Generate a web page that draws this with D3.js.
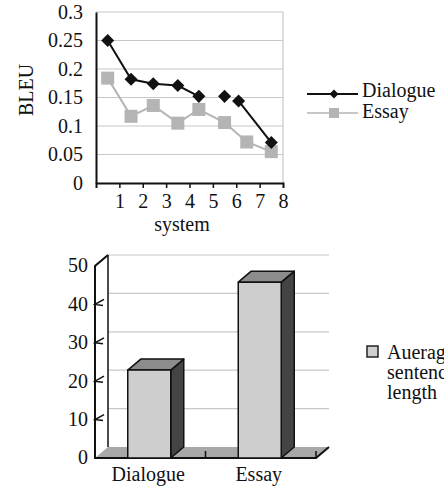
<!DOCTYPE html>
<meta charset="utf-8">
<title>BLEU and sentence length</title>
<style>
body { margin: 0; background: #fff; }
svg { display: block; }
text { font-family: "Liberation Serif", "DejaVu Serif", serif; fill: #111; }
</style>
<svg></svg>
<script src="https://d3js.org/d3.v7.min.js"></script>
<script>
// line chart data
var dialogueX = [0.5, 1.5, 2.45, 3.5, 4.4, 5.5, 6.1, 7.5];
var dialogueY = [0.25, 0.182, 0.174, 0.171, 0.152, 0.152, 0.144, 0.071];
var dialogueSegments = [[0, 4], [5, 5], [6, 7]]; // index ranges that are joined
var essayX = [0.5, 1.5, 2.45, 3.5, 4.4, 5.5, 6.45, 7.5];
var essayY = [0.184, 0.117, 0.136, 0.105, 0.129, 0.106, 0.072, 0.055];
var lineYTicks = [0, 0.05, 0.1, 0.15, 0.2, 0.25, 0.3];
var lineYLabels = ["0", "0.05", "0.1", "0.15", "0.2", "0.25", "0.3"];
var lineXTicks = [1, 2, 3, 4, 5, 6, 7, 8];

// bar chart data
var barCats = ["Dialogue", "Essay"];
var barValues = [22.9, 45.8];
var barYTicks = [0, 10, 20, 30, 40, 50];

var width = 444, height = 489;
var svg = d3.select("svg").attr("width", width).attr("height", height);

// ---- top: line chart ----
var x = d3.scaleLinear().domain([0, 8]).range([96, 283]);
var y = d3.scaleLinear().domain([0, 0.3]).range([183, 12]);

var topG = svg.append("g");
// gridlines
topG.selectAll(".grid")
    .data(lineYTicks.slice(1))
  .enter().append("line")
    .attr("x1", x(0)).attr("x2", x(8))
    .attr("y1", function(d) { return y(d); })
    .attr("y2", function(d) { return y(d); })
    .style("stroke", "#c8c8c8").style("stroke-width", 1.2);
topG.append("line")
    .attr("x1", x(8)).attr("x2", x(8)).attr("y1", y(0.3)).attr("y2", y(0))
    .style("stroke", "#c8c8c8").style("stroke-width", 1.2);

var yAxis = topG.append("g")
    .attr("transform", "translate(" + x(0) + ",0)")
    .call(d3.axisLeft(y).tickValues(lineYTicks).tickSize(0).tickPadding(13)
      .tickFormat(function(d, i) { return lineYLabels[i]; }));
var xAxis = topG.append("g")
    .attr("transform", "translate(0," + y(0) + ")")
    .call(d3.axisBottom(x).tickValues(lineXTicks).tickSize(5).tickPadding(6));
[yAxis, xAxis].forEach(function(a) {
  a.attr("font-size", null).attr("font-family", null);
  a.select(".domain").style("stroke", "#111").style("stroke-width", 2);
  a.selectAll(".tick line").style("stroke", "#111").style("stroke-width", 1.5);
  a.selectAll("text").style("font-size", "20px").style("fill", "#111");
});
xAxis.select(".tick:last-of-type line").remove();

topG.append("text")
    .attr("transform", "translate(33,90) rotate(-90)")
    .style("text-anchor", "middle").style("font-size", "20px")
    .text("BLEU");
topG.append("text")
    .attr("x", 182).attr("y", 231)
    .style("text-anchor", "middle").style("font-size", "20px")
    .text("system");

var line = d3.line()
    .x(function(d) { return x(d[0]); })
    .y(function(d) { return y(d[1]); });

var essayPts = essayX.map(function(d, i) { return [d, essayY[i]]; });
var dialoguePts = dialogueX.map(function(d, i) { return [d, dialogueY[i]]; });

topG.append("path")
    .attr("d", line(essayPts))
    .style("fill", "none").style("stroke", "#b4b4b4").style("stroke-width", 2);
topG.selectAll(".sq")
    .data(essayPts)
  .enter().append("rect")
    .attr("x", function(d) { return x(d[0]) - 6.5; })
    .attr("y", function(d) { return y(d[1]) - 6.5; })
    .attr("width", 13).attr("height", 13)
    .style("fill", "#b4b4b4");

dialogueSegments.forEach(function(s) {
  if (s[1] > s[0]) {
    topG.append("path")
        .attr("d", line(dialoguePts.slice(s[0], s[1] + 1)))
        .style("fill", "none").style("stroke", "#111").style("stroke-width", 2);
  }
});
topG.selectAll(".dm")
    .data(dialoguePts)
  .enter().append("path")
    .attr("transform", function(d) { return "translate(" + x(d[0]) + "," + y(d[1]) + ") rotate(45)"; })
    .attr("d", d3.symbol().type(d3.symbolSquare).size(85)())
    .style("fill", "#111");

// legend
var lg = topG.append("g");
lg.append("line").attr("x1", 307).attr("x2", 358).attr("y1", 94).attr("y2", 94)
    .style("stroke", "#111").style("stroke-width", 2);
lg.append("path").attr("transform", "translate(334,94) rotate(45)")
    .attr("d", d3.symbol().type(d3.symbolSquare).size(40)()).style("fill", "#111");
lg.append("text").attr("x", 362).attr("y", 97)
    .style("font-size", "20px").text("Dialogue");
lg.append("line").attr("x1", 307).attr("x2", 358).attr("y1", 113).attr("y2", 113)
    .style("stroke", "#b4b4b4").style("stroke-width", 1.5);
lg.append("rect").attr("x", 329).attr("y", 108).attr("width", 10).attr("height", 10)
    .style("fill", "#b4b4b4");
lg.append("text").attr("x", 362).attr("y", 118)
    .style("font-size", "20px").text("Essay");

// ---- bottom: 3D column chart ----
var dx = 13, dy = -11;
var bx = d3.scaleBand().domain(barCats).range([95, 316]);
var by = d3.scaleLinear().domain([0, 50]).range([458, 266]);
var bot = svg.append("g");

// back wall gridlines
bot.selectAll(".bgrid")
    .data(barYTicks.slice(1))
  .enter().append("line")
    .attr("x1", 95 + dx).attr("x2", 316 + dx)
    .attr("y1", function(d) { return by(d) + dy; })
    .attr("y2", function(d) { return by(d) + dy; })
    .style("stroke", "#c8c8c8").style("stroke-width", 1.2);
// floor
bot.append("path")
    .attr("d", "M95," + by(0) + "L316," + by(0) + "L" + (316 + dx) + "," + (by(0) + dy) +
      "L" + (95 + dx) + "," + (by(0) + dy) + "Z")
    .style("fill", "#a8a8a8");
// back wall left edge
bot.append("line")
    .attr("x1", 95 + dx).attr("x2", 95 + dx).attr("y1", by(50) + dy).attr("y2", by(0) + dy)
    .style("stroke", "#111").style("stroke-width", 1.5);
// front axis
bot.append("path")
    .attr("d", "M" + (95 + dx) + "," + (by(50) + dy) + "L95," + by(50) + "L95," + by(0) +
      "L316," + by(0) + "L" + (316 + dx) + "," + (by(0) + dy))
    .style("fill", "none").style("stroke", "#111").style("stroke-width", 2);
// y ticks
bot.selectAll(".ytk")
    .data(barYTicks.slice(1, -1))
  .enter().append("path")
    .attr("d", function(d) { return "M103," + (by(d) + 1) + "L95," + by(d) + "L104," + (by(d) - 5); })
    .style("fill", "none").style("stroke", "#111").style("stroke-width", 1.5);
bot.selectAll(".ylab")
    .data(barYTicks)
  .enter().append("text")
    .attr("x", 88).attr("y", function(d) { return by(d); }).attr("dy", "0.32em")
    .style("text-anchor", "end").style("font-size", "20px")
    .text(function(d) { return d; });
// category ticks
[bx("Essay"), 316].forEach(function(t) {
  bot.append("line").attr("x1", t).attr("x2", t).attr("y1", by(0)).attr("y2", by(0) - 7)
      .style("stroke", "#111").style("stroke-width", 1.5);
});
bot.selectAll(".xlab")
    .data(barCats)
  .enter().append("text")
    .attr("x", function(d) { return bx(d) + bx.bandwidth() / 2 - 2; })
    .attr("y", 481)
    .style("text-anchor", "middle").style("font-size", "20px")
    .text(function(d) { return d; });

// bars
var bw = 43;
barCats.forEach(function(c, i) {
  var x0 = bx(c) + bx.bandwidth() / 2 - bw / 2 - 1, x1 = x0 + bw;
  var y0 = by(0), y1 = by(barValues[i]);
  var g = bot.append("g").style("stroke", "#111").style("stroke-width", 1.5).style("stroke-linejoin", "round");
  g.append("path")
      .attr("d", "M" + x1 + "," + y0 + "L" + x1 + "," + y1 + "L" + (x1 + dx) + "," + (y1 + dy) +
        "L" + (x1 + dx) + "," + (y0 + dy) + "Z")
      .style("fill", "#444");
  g.append("path")
      .attr("d", "M" + x0 + "," + y1 + "L" + x1 + "," + y1 + "L" + (x1 + dx) + "," + (y1 + dy) +
        "L" + (x0 + dx) + "," + (y1 + dy) + "Z")
      .style("fill", "#8c8c8c");
  g.append("rect")
      .attr("x", x0).attr("y", y1).attr("width", bw).attr("height", y0 - y1)
      .style("fill", "#cecece");
});

// legend (runs off the right edge, as in the original)
bot.append("rect").attr("x", 367).attr("y", 346).attr("width", 11).attr("height", 11)
    .style("fill", "#cecece").style("stroke", "#222").style("stroke-width", 1.5);
var lt = bot.append("text").style("font-size", "20px");
["Auerage", "sentence", "length"].forEach(function(w, i) {
  lt.append("tspan").attr("x", 387).attr("y", 359 + i * 20).text(w);
});
</script>
